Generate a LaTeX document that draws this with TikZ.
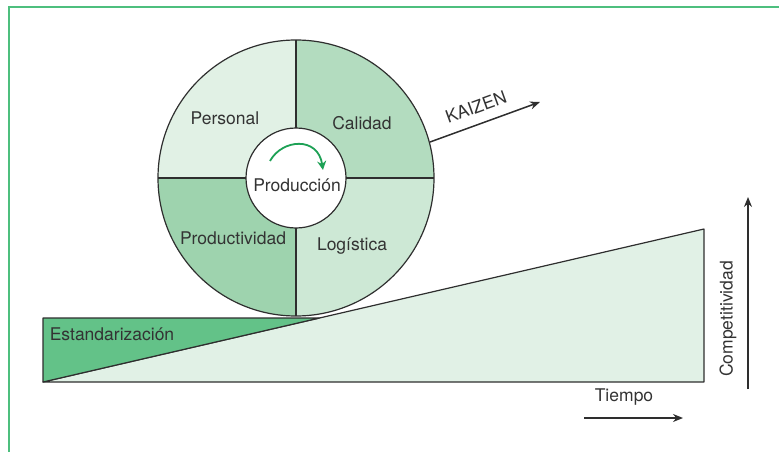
\documentclass[tikz,border=0pt]{standalone}
\usepackage{fontspec}
\setmainfont{TeX Gyre Heros}
\usetikzlibrary{arrows.meta,calc}
\definecolor{frame}{HTML}{4DBF7E}
\definecolor{ink}{HTML}{2E2E2E}
\definecolor{txt}{HTML}{333333}
\definecolor{qpers}{HTML}{E1F1E5}
\definecolor{qcal}{HTML}{B3DCBF}
\definecolor{qprod}{HTML}{9ED3AE}
\definecolor{qlog}{HTML}{CDE8D5}
\definecolor{estd}{HTML}{63C288}
\definecolor{ramp}{HTML}{E1F1E6}
\definecolor{turngreen}{HTML}{1DA155}
\tikzset{
  lbl/.style={text=txt,font=\fontsize{17.5}{20}\selectfont,inner sep=0pt},
  edge/.style={draw=ink,line width=1.2pt},
  axis/.style={draw=ink,line width=1.5pt,-{Stealth[length=10pt,width=8pt]}}
}
\begin{document}
\begin{tikzpicture}[x=1pt,y=-1pt]
\useasboundingbox (0,0) rectangle (779,452);
% frame (top and left lines)
\draw[frame,line width=1.6pt] (9,452) -- (9,7) -- (779,7);
% ramp
\coordinate (A) at (43,382);
\coordinate (B) at (704,382);
\coordinate (C) at (704,229);
\coordinate (D) at (43,318);
\coordinate (E) at ($(A)!0.418!(C)$);
\filldraw[fill=ramp,edge,line join=round] (A) -- (B) -- (C) -- cycle;
\filldraw[fill=estd,edge,line join=round] (A) -- (D) -- (E) -- cycle;
% wheel
\coordinate (O) at (296,178);
\begin{scope}
\clip (O) circle (138);
\fill[qpers] (O) rectangle ++(-140,-140);
\fill[qcal] (O) rectangle ++(140,-140);
\fill[qprod] (O) rectangle ++(-140,140);
\fill[qlog] (O) rectangle ++(140,140);
\end{scope}
\draw[edge] (O) circle (138);
\draw[edge] ($(O)+(-138,0)$) -- ($(O)+(138,0)$);
\draw[edge] ($(O)+(0,-138)$) -- ($(O)+(0,138)$);
\filldraw[fill=white,edge] (O) circle (50);
% labels
\node[lbl] (pers) at (225,118) {Personal};
\node[lbl] (cal) at (362,123) {Calidad};
\node[lbl] (prod) at (297,185) {Producción};
\node[lbl] (pdv) at (233,238) {Productividad};
\node[lbl] (log) at (352,246) {Logística};
\node[lbl] (est) at (112,334) {Estandarización};
% turning arrow
\coordinate (t1) at (270,161);
\coordinate (t2) at (323,170);
\draw[turngreen,line width=1.8pt,-{Stealth[length=9pt,width=9pt]}] (t1) .. controls (282,139) and (318,136) .. (t2);
% kaizen
\coordinate (k1) at (430,142);
\coordinate (k2) at (540,102);
\draw[axis] (k1) -- (k2);
\node[lbl,rotate=20] (kz) at (476,107) {KAIZEN};
% tiempo
\coordinate (tm1) at (584,418);
\coordinate (tm2) at (683,418);
\draw[axis] (tm1) -- (tm2);
\node[lbl] (tmp) at (624,397) {Tiempo};
% competitividad
\coordinate (c1) at (748,389);
\coordinate (c2) at (748,197);
\draw[axis] (c1) -- (c2);
\node[lbl,rotate=90] (comp) at (728,319) {Competitividad};
\end{tikzpicture}
\end{document}
